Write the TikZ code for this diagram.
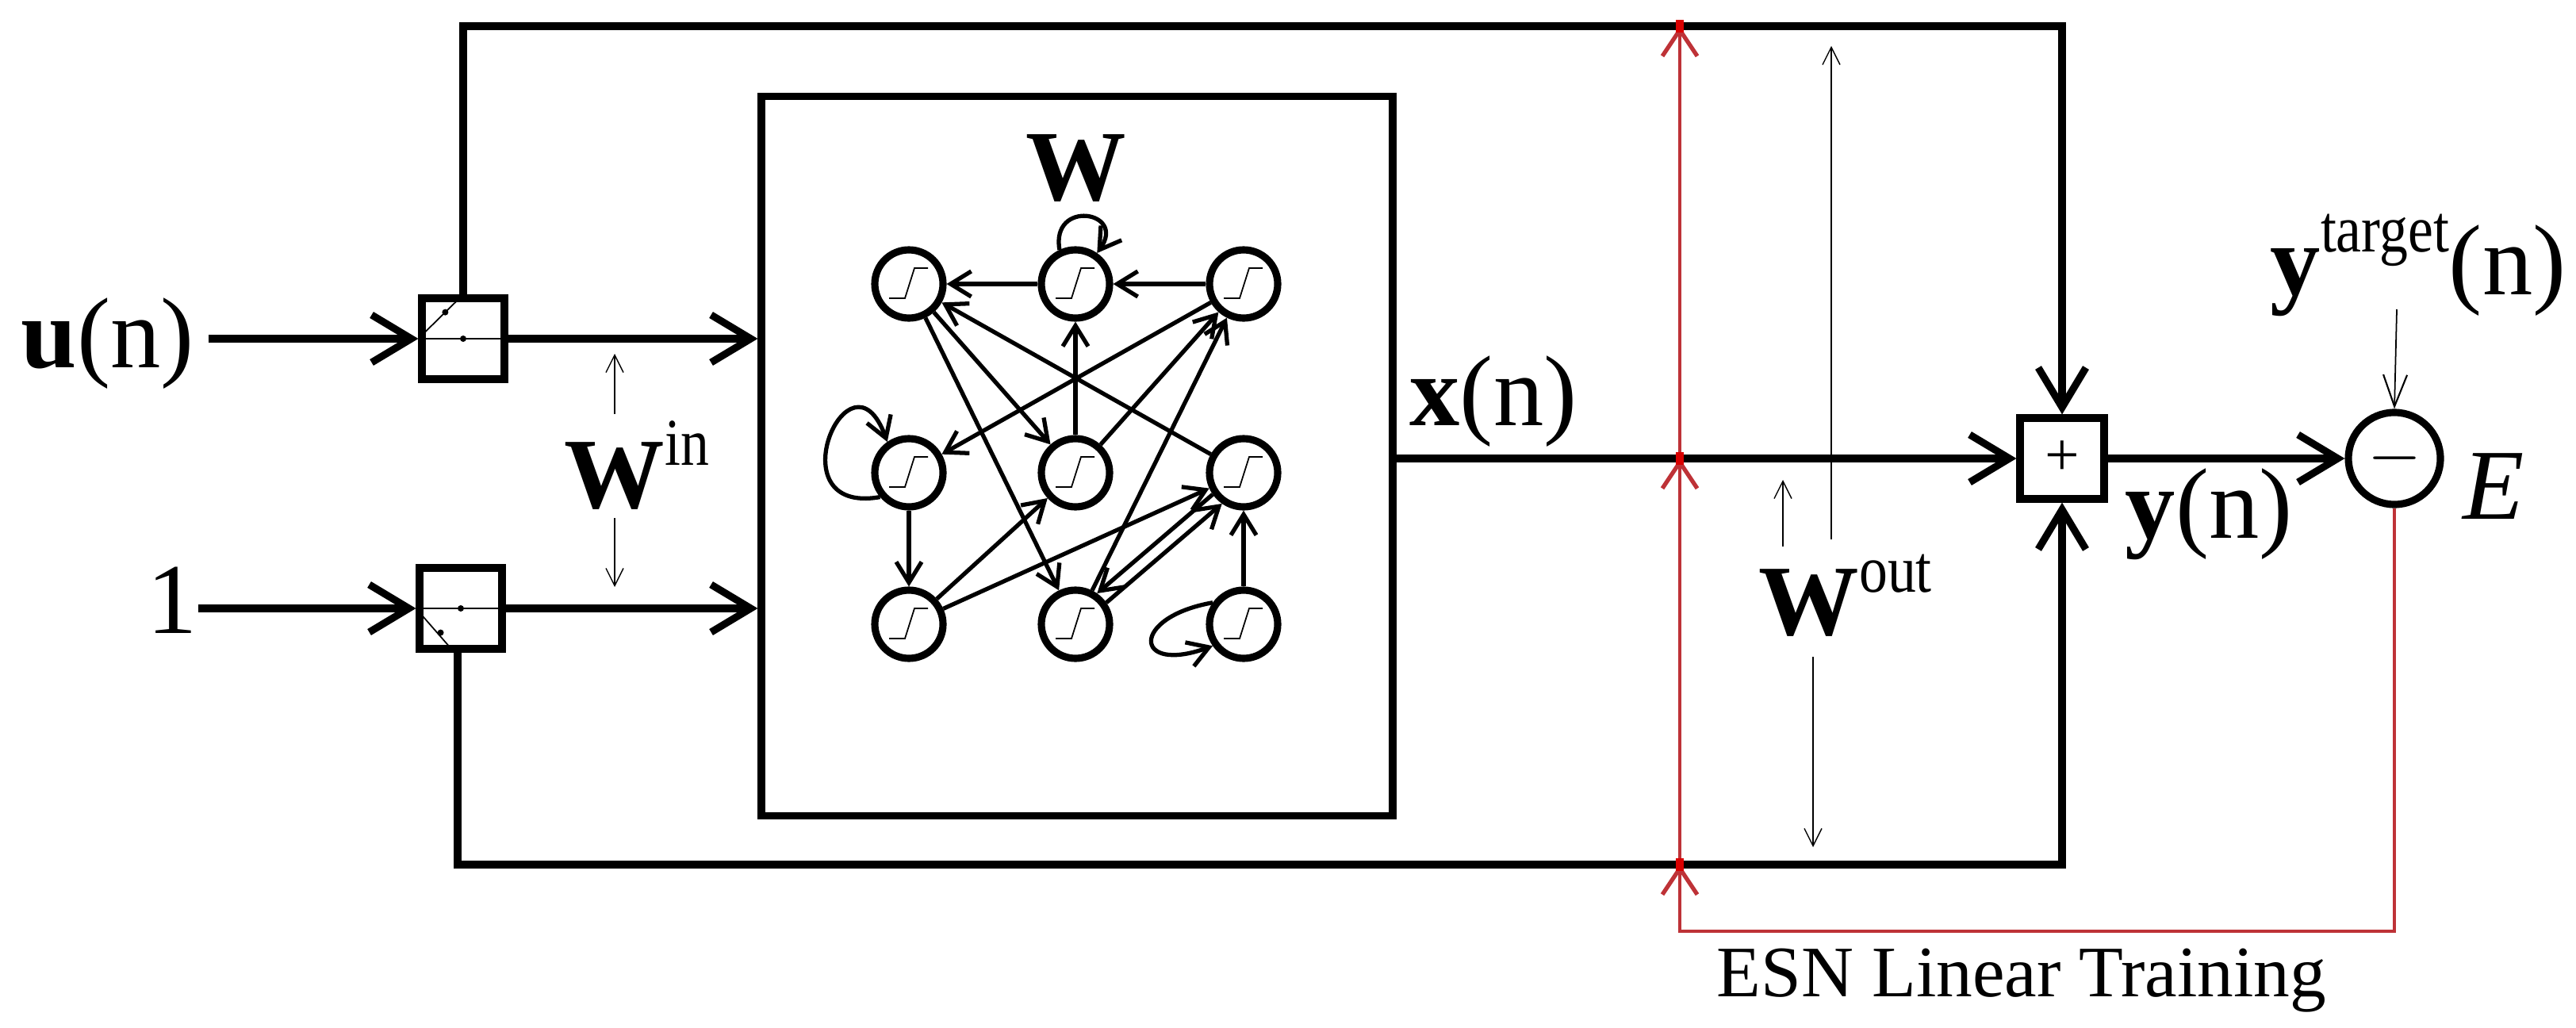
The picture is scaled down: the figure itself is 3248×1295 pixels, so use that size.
\documentclass[tikz,border=0pt]{standalone}
\usepackage{fontspec}
\setmainfont{Liberation Serif}
\usetikzlibrary{arrows.meta,calc}
\definecolor{trainred}{RGB}{190,50,55}
\tikzset{
	wire/.style={line width=2.6pt},
	bigtip/.style={-{Straight Barb[length=5mm,width=6mm,line width=2.6pt]}},
	box/.style={draw, line width=2.6pt, minimum width=1.04cm, minimum height=1.02cm, inner sep=0pt},
	neuron/.style={draw, circle, line width=2.6pt, minimum size=0.86cm, inner sep=0pt},
	syn/.style={line width=1.5pt, -{Straight Barb[length=2.6mm,width=3.2mm,line width=1.5pt]}},
	hint/.style={line width=0.4pt, -{Straight Barb[length=2.2mm,width=2.2mm,line width=0.4pt]}},
	train/.style={trainred, line width=1.3pt, -{Straight Barb[length=3.3mm,width=4.4mm,line width=1.5pt]}},
	lbl/.style={font=\fontsize{36}{40}\selectfont, inner sep=0pt},
}
\newcommand{\sigm}[1]{%
	\draw[line width=0.5pt] ($(#1)+(-25,18)$) -- ($(#1)+(-5,18)$) -- ($(#1)+(7,-20)$) -- ($(#1)+(24,-20)$);}
\newcommand{\sups}[1]{\raisebox{0.42em}{\fontsize{24}{26}\selectfont\addfontfeature{FakeStretch=0.85}#1}}

\begin{document}
\begin{tikzpicture}[x=0.1mm, y=-0.1mm]
	\useasboundingbox (0,0) rectangle (3248,1295);

	% input switches, reservoir, readout
	\node[box] (sw1) at (584,427) {};
	\node[box] (sw2) at (581,767) {};
	\node[draw, line width=2.6pt, minimum width=7.96cm, minimum height=9.07cm, inner sep=0pt] (res) at (1358,575) {};
	\node[box, minimum width=1.06cm] (sum) at (2600,578) {\fontsize{22}{24}\selectfont +};
	\node[draw, circle, line width=2.6pt, minimum size=1.16cm, inner sep=0pt] (err) at (3019,578) {\fontsize{30}{32}\selectfont $-$};

	% switch contacts
	\draw[line width=0.5pt] (sw1.west) -- (sw1.east);
	\draw[line width=0.5pt] (sw1.west) -- (sw1.north);
	\fill (sw1.center) circle (4) ($(sw1.west)!0.6!(sw1.north)$) circle (4);
	\draw[line width=0.5pt] (sw2.west) -- (sw2.east);
	\draw[line width=0.5pt] (sw2.west) -- ($(sw2.south)+(-8,0)$);
	\fill (sw2.center) circle (4) ($(sw2.west)!0.55!(sw2.south)$) circle (4);

	% labels
	\node[lbl, anchor=base west] (u) at (26,463) {\textbf{u}(n)};
	\node[lbl, anchor=base west] (one) at (185,798) {1};
	\node[lbl, anchor=base west] (win) at (711,640) {\textbf{W}\sups{in}};
	\node[lbl, anchor=base] (wres) at (1357,252) {\textbf{W}};
	\node[lbl, anchor=base west] (x) at (1777,536) {\textbf{x}(n)};
	\node[lbl, anchor=base west] (wout) at (2217,800) {\textbf{W}\sups{out}};
	\node[lbl, anchor=base west] (y) at (2679,678) {\textbf{y}(n)};
	\node[lbl, anchor=base west] (e) at (3105,654) {\textit{E}};
	\node[lbl, anchor=base west] (yt) at (2862,371) {\textbf{y}\sups{target}(n)};
	\node[anchor=base west, inner sep=0pt, font=\fontsize{26}{30}\selectfont] (esn) at (2164,1256) {ESN Linear Training};

	% main signal path
	\draw[wire, bigtip] (sw1.west) ++(-264,0) -- (sw1.west);
	\draw[wire, bigtip] (sw2.west) ++(-274,0) -- (sw2.west);
	\draw[wire, bigtip] (sw1.east) -- (res.west |- sw1.east);
	\draw[wire, bigtip] (sw2.east) -- (res.west |- sw2.east);
	\draw[wire, bigtip] (res.east |- sum.west) -- (sum.west);
	\draw[wire, bigtip] (sum.east) -- (err.west);
	\draw[line width=0.5pt, -{Straight Barb[length=4mm,width=3mm,line width=0.6pt]}] (3022,390) -- (err.north);

	% feedthrough loops around the reservoir
	\coordinate (tl) at (sw1.north |- 0,33);
	\coordinate (tr) at (sum.north |- 0,33);
	\coordinate (bl) at ($(sw2.south)+(-4,0)$);
	\coordinate (br) at (sum.south |- 0,1090);
	\draw[wire] (sw1.north) -- (tl) -- (tr) -- ($(sum.north)+(0,-40)$);
	\draw[wire, bigtip] (tr) -- (sum.north);
	\draw[wire] (bl) |- (br) -- ($(sum.south)+(0,40)$);
	\draw[wire, bigtip] (br) -- (sum.south);

	% weight hints
	\draw[hint] (775,522) -- (775,446);
	\draw[hint] (775,653) -- (775,740);
	\draw[hint] (2248,689) -- (2248,605);
	\draw[hint] (2309,680) -- (2309,58);
	\draw[hint] (2286,828) -- (2286,1068);

	% training path
	\coordinate (rt) at (2118,33);
	\coordinate (rm) at (2118,578);
	\coordinate (rb) at (2118,1090);
	\draw[train] (err.south) |- (2118,1174) -- (rb);
	\draw[train] (rb) -- (rm);
	\draw[train] (rm) -- (rt);
	\foreach \p in {rt,rm,rb}
		\fill[red!85!black] ($(\p)+(-5,-8)$) rectangle ($(\p)+(5,8)$);

	% reservoir neurons
	\foreach \r/\y in {a/358,b/596,c/787} {
		\foreach \c/\x in {1/1146,2/1356,3/1568} {
			\node[neuron] (\r\c) at (\x,\y) {};
			\sigm{\r\c}
		}
	}
	\draw[syn] (a2) -- (a1);
	\draw[syn] (a3) -- (a2);
	\draw[syn] (b2) -- (a2);
	\draw[syn] (a1) -- (b2);
	\draw[syn] (a1) -- (c2);
	\draw[syn] (b3) -- (a1);
	\draw[syn] (a3) -- (b1);
	\draw[syn] (b2) -- (a3);
	\draw[syn] (c2) -- (a3);
	\draw[syn] (b1) -- (c1);
	\draw[syn] (c1) -- (b2);
	\draw[syn] (c1) -- (b3);
	\draw[syn] (c2.35) -- (b3.235);
	\draw[syn] (b3.215) -- (c2.55);
	\draw[syn] (c3) -- (b3);
	\draw[syn] (a2.115) to[out=100, in=55, looseness=3.5] (a2.55);
	\draw[syn] (b1.220) to[out=190, in=110, looseness=5] (b1.125);
	\draw[syn] (c3.145) to[out=190, in=200, looseness=5] (c3.215);
\end{tikzpicture}
\end{document}
